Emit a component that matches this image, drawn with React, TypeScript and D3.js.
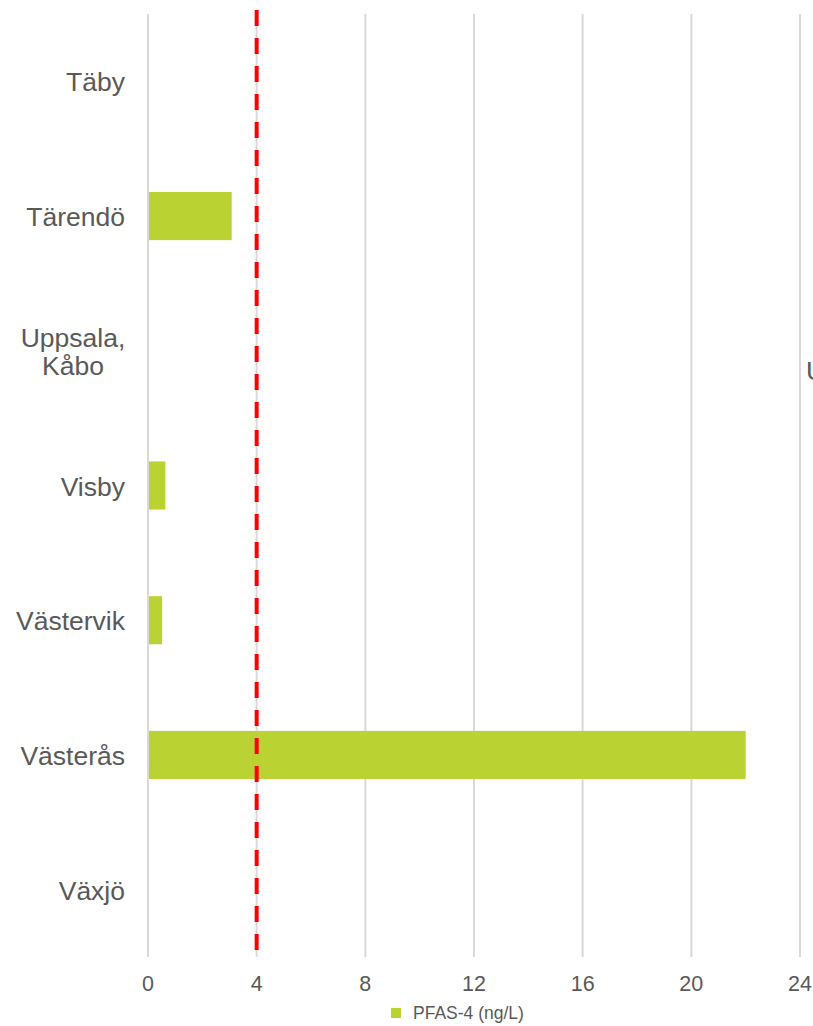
import React from "react";
import * as d3 from "d3";

const categories: string[][] = [["Täby"], ["Tärendö"], ["Uppsala,", "Kåbo"], ["Visby"], ["Västervik"], ["Västerås"], ["Växjö"]];
const values: (number | null)[] = [null, 3.08, null, 0.64, 0.52, 22.0, null];
const xTicks: number[] = [0, 4, 8, 12, 16, 20, 24];
const limitValue = 4;
const seriesName = "PFAS-4 (ng/L)";

export default function App() {
  const W = 813, H = 1026;
  const left = 148, right = 800, top = 14, bottom = 957;
  const x = d3.scaleLinear().domain([0, 24]).range([left, right]);
  const keys = categories.map((_, i) => String(i));
  const y = d3.scaleBand().domain(keys).range([top, bottom]).paddingInner(0.643).paddingOuter(0.3215);
  const band = (bottom - top) / categories.length;
  const font = "'Liberation Sans', Arial, sans-serif";
  const grey = "#595959";
  return (
    <svg width={W} height={H} style={{ position: "absolute", left: 0, top: 0 }} fontFamily={font}>
      <rect width={W} height={H} fill="#fff" />
      {xTicks.map((t) => (
        <line key={t} x1={x(t)} x2={x(t)} y1={top} y2={bottom} stroke="#d9d9d9" strokeWidth={2} />
      ))}
      {values.map((v, i) =>
        v == null ? null : (
          <rect key={i} x={x(0) + 1} y={y(String(i))!} width={x(v) - x(0) - 1} height={y.bandwidth()} fill="#bbd233" />
        )
      )}
      <line x1={x(limitValue)} x2={x(limitValue)} y1={10} y2={bottom} stroke="#ff0000" strokeWidth={4} strokeDasharray="16 12" />
      {categories.map((lines, i) => {
        const cy = top + band * (i + 0.5);
        if (lines.length === 1) {
          return (
            <text key={i} x={125} y={cy + 10} textAnchor="end" fontSize={26.5} fill={grey}>{lines[0]}</text>
          );
        }
        return (
          <text key={i} textAnchor="middle" fontSize={26.5} fill={grey}>
            {lines.map((l, j) => (
              <tspan key={j} x={73} y={cy - 4 + j * 28}>{l}</tspan>
            ))}
          </text>
        );
      })}
      {xTicks.map((t) => (
        <text key={t} x={x(t)} y={991} textAnchor="middle" fontSize={21.5} fill={grey}>{t}</text>
      ))}
      <rect x={391} y={1008} width={10} height={10} fill="#bbd233" />
      <text x={413} y={1019} fontSize={17.5} fill={grey}>{seriesName}</text>
      <text x={806} y={380} fontSize={26.5} fill={grey}>U</text>
    </svg>
  );
}
